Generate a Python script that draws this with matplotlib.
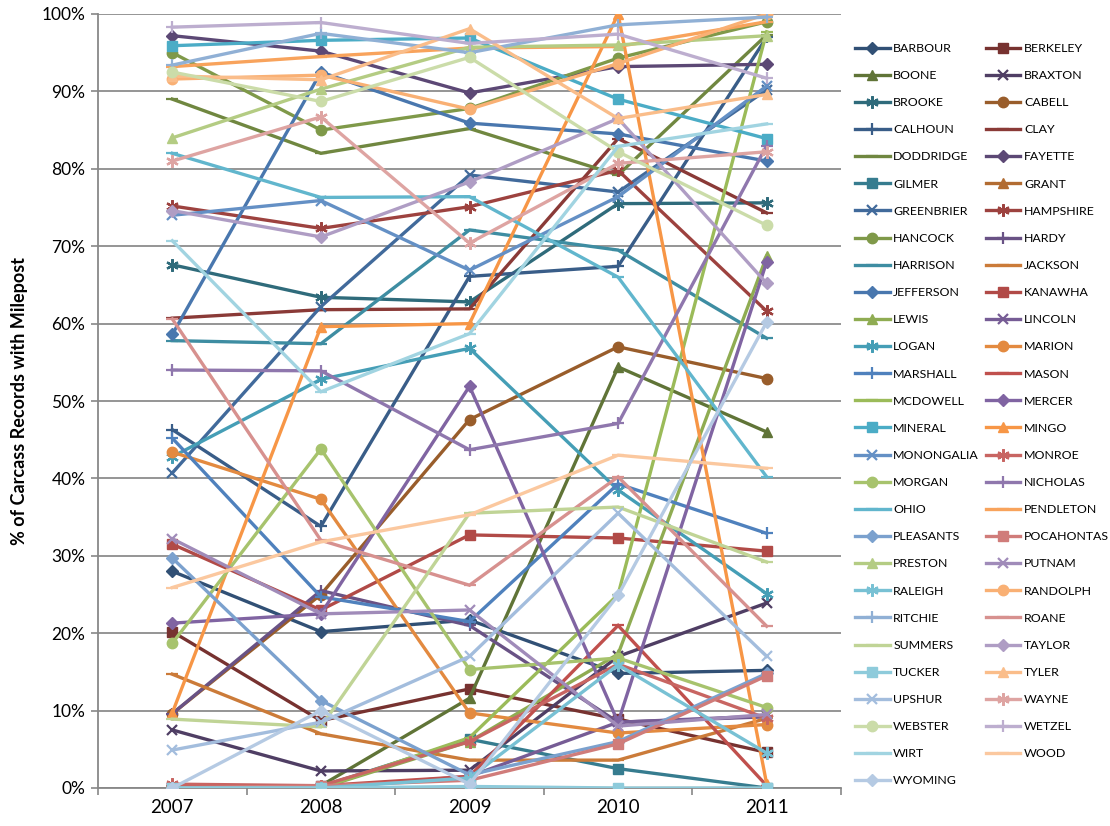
import numpy as np
import matplotlib
matplotlib.use("Agg")
import matplotlib.pyplot as plt
from matplotlib.colors import to_rgb

plt.rcParams['font.family'] = ['Lato', 'DejaVu Sans']

years = ["2007", "2008", "2009", "2010", "2011"]

counties = ["BARBOUR", "BERKELEY", "BOONE", "BRAXTON", "BROOKE", "CABELL", "CALHOUN", "CLAY",
            "DODDRIDGE", "FAYETTE", "GILMER", "GRANT", "GREENBRIER", "HAMPSHIRE", "HANCOCK",
            "HARDY", "HARRISON", "JACKSON", "JEFFERSON", "KANAWHA", "LEWIS", "LINCOLN", "LOGAN",
            "MARION", "MARSHALL", "MASON", "MCDOWELL", "MERCER", "MINERAL", "MINGO",
            "MONONGALIA", "MONROE", "MORGAN", "NICHOLAS", "OHIO", "PENDLETON", "PLEASANTS",
            "POCAHONTAS", "PRESTON", "PUTNAM", "RALEIGH", "RANDOLPH", "RITCHIE", "ROANE",
            "SUMMERS", "TAYLOR", "TUCKER", "TYLER", "UPSHUR", "WAYNE", "WEBSTER", "WETZEL",
            "WIRT", "WOOD", "WYOMING"]

BARBOUR    = [28.0, 20.2, 21.7, 14.8, 15.2]
BERKELEY   = [20.2, 8.7, 12.8, 8.9, 4.6]
BOONE      = [0.0, 0.3, 11.6, 54.4, 46.0]
BRAXTON    = [7.5, 2.2, 2.3, 17.0, 23.9]
BROOKE     = [67.6, 63.4, 62.8, 75.5, 75.6]
CABELL     = [9.6, 25.0, 47.6, 57.0, 52.9]
CALHOUN    = [46.3, 33.8, 66.1, 67.4, 97.0]
CLAY       = [60.7, 61.8, 61.9, 83.9, 74.3]
DODDRIDGE  = [89.0, 82.0, 85.2, 79.2, 97.3]
FAYETTE    = [97.2, 95.2, 89.8, 93.2, 93.5]
GILMER     = [0.0, 0.2, 6.3, 2.5, 0.0]
GRANT      = [0.0, 0.0, 0.0, 0.0, 0.0]
GREENBRIER = [40.7, 62.2, 79.2, 77.0, 90.2]
HAMPSHIRE  = [75.2, 72.3, 75.1, 79.8, 61.6]
HANCOCK    = [95.0, 85.0, 87.8, 94.3, 99.0]
HARDY      = [9.6, 25.5, 21.0, 8.5, 9.2]
HARRISON   = [57.8, 57.4, 72.1, 69.5, 58.1]
JACKSON    = [14.7, 7.0, 3.6, 3.6, 9.0]
JEFFERSON  = [58.6, 92.5, 85.9, 84.5, 81.0]
KANAWHA    = [31.5, 23.0, 32.7, 32.3, 30.6]
LEWIS      = [0.0, 0.0, 6.0, 17.3, 68.7]
LINCOLN    = [0.0, 0.0, 1.5, 8.5, 9.3]
LOGAN      = [42.8, 52.8, 56.8, 38.5, 25.1]
MARION     = [43.4, 37.3, 9.7, 7.1, 8.2]
MARSHALL   = [45.2, 24.7, 21.5, 39.3, 32.9]
MASON      = [0.3, 0.3, 1.5, 21.0, 0.3]
MCDOWELL   = [0.0, 0.0, 6.5, 25.0, 97.7]
MERCER     = [21.3, 22.5, 51.9, 8.5, 68.0]
MINERAL    = [95.9, 96.6, 96.9, 89.0, 83.9]
MINGO      = [9.7, 59.6, 60.0, 100.0, 0.5]
MONONGALIA = [74.0, 75.9, 66.9, 76.4, 90.7]
MONROE     = [0.5, 0.3, 6.0, 16.0, 9.0]
MORGAN     = [18.7, 43.8, 15.3, 16.8, 10.4]
NICHOLAS   = [54.0, 53.9, 43.7, 47.1, 83.0]
OHIO       = [82.0, 76.3, 76.4, 66.0, 40.2]
PENDLETON  = [93.2, 94.5, 95.6, 95.8, 99.0]
PLEASANTS  = [29.7, 11.3, 1.7, 6.0, 14.8]
POCAHONTAS = [0.0, 0.3, 1.0, 5.7, 14.5]
PRESTON    = [84.0, 90.3, 95.7, 96.0, 97.2]
PUTNAM     = [32.2, 22.5, 23.0, 8.0, 9.5]
RALEIGH    = [0.0, 0.0, 1.3, 15.9, 4.5]
RANDOLPH   = [91.6, 92.1, 87.7, 93.6, 100.0]
RITCHIE    = [93.4, 97.5, 95.0, 98.6, 99.6]
ROANE      = [60.6, 32.0, 26.2, 40.2, 20.9]
SUMMERS    = [8.9, 7.9, 35.5, 36.3, 29.2]
TAYLOR     = [74.6, 71.2, 78.3, 86.5, 65.2]
TUCKER     = [0.0, 0.0, 0.2, 0.0, 0.0]
TYLER      = [92.0, 91.5, 98.1, 86.5, 89.6]
UPSHUR     = [4.9, 8.5, 17.0, 35.5, 17.0]
WAYNE      = [81.0, 86.7, 70.4, 80.7, 82.2]
WEBSTER    = [92.5, 88.7, 94.4, 82.2, 72.7]
WETZEL     = [98.3, 98.9, 96.2, 97.4, 91.7]
WIRT       = [70.7, 51.2, 58.7, 82.9, 85.8]
WOOD       = [25.9, 31.8, 35.3, 43.0, 41.3]
WYOMING    = [0.0, 10.0, 0.5, 24.9, 60.2]

series = [BARBOUR, BERKELEY, BOONE, BRAXTON, BROOKE, CABELL, CALHOUN, CLAY, DODDRIDGE,
          FAYETTE, GILMER, GRANT, GREENBRIER, HAMPSHIRE, HANCOCK, HARDY, HARRISON, JACKSON,
          JEFFERSON, KANAWHA, LEWIS, LINCOLN, LOGAN, MARION, MARSHALL, MASON, MCDOWELL,
          MERCER, MINERAL, MINGO, MONONGALIA, MONROE, MORGAN, NICHOLAS, OHIO, PENDLETON,
          PLEASANTS, POCAHONTAS, PRESTON, PUTNAM, RALEIGH, RANDOLPH, RITCHIE, ROANE, SUMMERS,
          TAYLOR, TUCKER, TYLER, UPSHUR, WAYNE, WEBSTER, WETZEL, WIRT, WOOD, WYOMING]

accents = ["#4F81BD", "#C0504D", "#9BBB59", "#8064A2", "#4BACC6", "#F79646"]
shade = [0.62, 0.72, 0.82, 0.92, 1.0, 0.12, 0.25, 0.37, 0.48, 0.58]  # <=1 shade, else tint


def color_for(i):
    base = np.array(to_rgb(accents[i % 6]))
    k = i // 6
    if k <= 4:
        return tuple(base * shade[k])
    t = shade[k]
    return tuple(base + (1 - base) * t)


markers = ['D', 's', '^', 'x', (6, 2, 0), 'o', '+', '_', '_']
msizes = [6.5, 7, 7.5, 7, 9, 7.5, 9, 8, 8]

fig = plt.figure(figsize=(11.10, 8.26), dpi=100)
ax = fig.add_axes([98 / 1110, 1 - 788 / 826, (841 - 98) / 1110, (788 - 14) / 826])

x = np.arange(len(years))
handles = []
for i, (name, vals) in enumerate(zip(counties, series)):
    c = color_for(i)
    m = markers[i % 9]
    ms = msizes[i % 9]
    filled = m in ('D', 's', '^', 'o')
    h, = ax.plot(x, vals, color=c, lw=2.4, marker=m, markersize=ms,
                 markerfacecolor=c, markeredgecolor=c,
                 markeredgewidth=1.0 if filled else 1.6, label=name,
                 solid_joinstyle='miter', zorder=3)
    handles.append(h)

ax.set_xlim(-0.5, 4.5)
ax.set_ylim(0, 100)
ax.set_yticks(np.arange(0, 101, 10))
ax.set_yticklabels([f"{v}%" for v in range(0, 101, 10)], fontsize=12.5)
ax.set_xticks(x)
ax.set_xticklabels(years, fontsize=13.5)
ax.set_xticks(np.arange(-0.5, 4.6, 1), minor=True)
ax.tick_params(axis='x', which='major', length=0, pad=8)
ax.tick_params(axis='x', which='minor', length=5, color='#888888', width=1.2)
ax.tick_params(axis='y', length=5, color='#888888', width=1.2, pad=4)
ax.grid(axis='y', color='#8c8c8c', lw=1.3, zorder=0)
ax.set_axisbelow(True)
for s in ['top', 'right']:
    ax.spines[s].set_visible(False)
for s in ['left', 'bottom']:
    ax.spines[s].set_color('#888888')
    ax.spines[s].set_linewidth(1.3)

ax.set_ylabel("% of Carcass Records with Milepost", fontsize=13, fontweight='bold', labelpad=10)

# Excel orders legend row-wise; matplotlib fills columns first
ordered = handles[0::2] + handles[1::2]
leg = fig.legend(handles=ordered, loc='upper left', bbox_to_anchor=(850 / 1110, 1 - 38 / 826),
                 ncol=2, frameon=False, fontsize=8.9, handlelength=2.8, handletextpad=0.3,
                 labelspacing=1.305, columnspacing=0.55, borderaxespad=0)

fig.savefig("out.png", dpi=100)
